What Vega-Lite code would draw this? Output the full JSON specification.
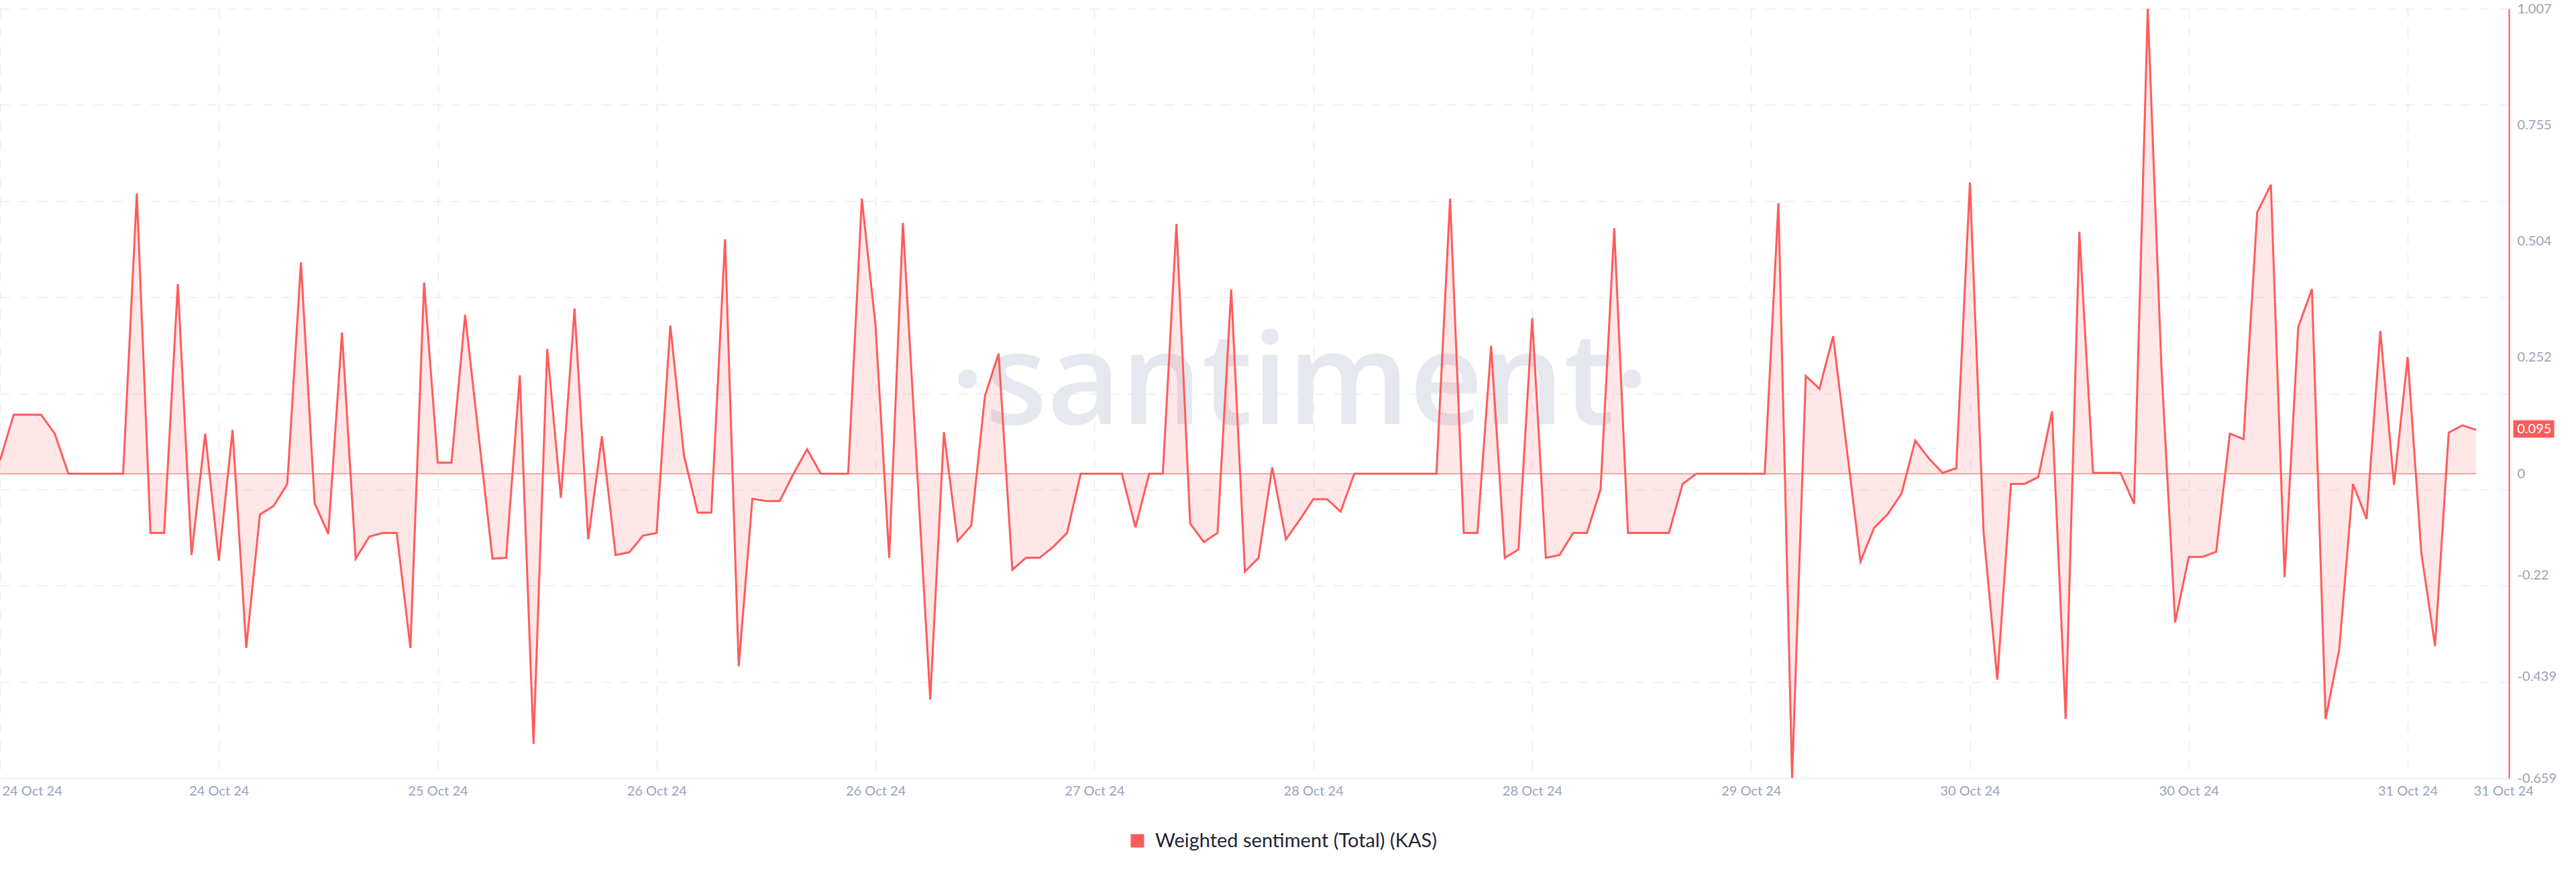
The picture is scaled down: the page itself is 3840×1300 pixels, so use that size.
{
  "$schema": "https://vega.github.io/schema/vega-lite/v6.json",
  "width": 3740,
  "height": 1147,
  "autosize": {"type": "none"},
  "padding": {"left": 0, "top": 13, "right": 100, "bottom": 140},
  "background": "white",
  "config": {"view": {"stroke": null}, "font": "Lato"},
  "data": {"values": [
    {"t":"2024-10-24T00:00:00Z","v":0.029},{"t":"2024-10-24T01:00:00Z","v":0.128},{"t":"2024-10-24T02:00:00Z","v":0.128},{"t":"2024-10-24T03:00:00Z","v":0.128},
    {"t":"2024-10-24T04:00:00Z","v":0.087},{"t":"2024-10-24T05:00:00Z","v":0},{"t":"2024-10-24T06:00:00Z","v":0},{"t":"2024-10-24T07:00:00Z","v":0},
    {"t":"2024-10-24T08:00:00Z","v":0},{"t":"2024-10-24T09:00:00Z","v":0},{"t":"2024-10-24T10:00:00Z","v":0.607},{"t":"2024-10-24T11:00:00Z","v":-0.128},
    {"t":"2024-10-24T12:00:00Z","v":-0.128},{"t":"2024-10-24T13:00:00Z","v":0.411},{"t":"2024-10-24T14:00:00Z","v":-0.176},{"t":"2024-10-24T15:00:00Z","v":0.087},
    {"t":"2024-10-24T16:00:00Z","v":-0.188},{"t":"2024-10-24T17:00:00Z","v":0.095},{"t":"2024-10-24T18:00:00Z","v":-0.377},{"t":"2024-10-24T19:00:00Z","v":-0.088},
    {"t":"2024-10-24T20:00:00Z","v":-0.07},{"t":"2024-10-24T21:00:00Z","v":-0.022},{"t":"2024-10-24T22:00:00Z","v":0.458},{"t":"2024-10-24T23:00:00Z","v":-0.064},
    {"t":"2024-10-25T00:00:00Z","v":-0.13},{"t":"2024-10-25T01:00:00Z","v":0.306},{"t":"2024-10-25T02:00:00Z","v":-0.184},{"t":"2024-10-25T03:00:00Z","v":-0.136},
    {"t":"2024-10-25T04:00:00Z","v":-0.128},{"t":"2024-10-25T05:00:00Z","v":-0.128},{"t":"2024-10-25T06:00:00Z","v":-0.377},{"t":"2024-10-25T07:00:00Z","v":0.414},
    {"t":"2024-10-25T08:00:00Z","v":0.024},{"t":"2024-10-25T09:00:00Z","v":0.024},{"t":"2024-10-25T10:00:00Z","v":0.344},{"t":"2024-10-25T11:00:00Z","v":0.08},
    {"t":"2024-10-25T12:00:00Z","v":-0.184},{"t":"2024-10-25T13:00:00Z","v":-0.182},{"t":"2024-10-25T14:00:00Z","v":0.213},{"t":"2024-10-25T15:00:00Z","v":-0.585},
    {"t":"2024-10-25T16:00:00Z","v":0.27},{"t":"2024-10-25T17:00:00Z","v":-0.052},{"t":"2024-10-25T18:00:00Z","v":0.358},{"t":"2024-10-25T19:00:00Z","v":-0.142},
    {"t":"2024-10-25T20:00:00Z","v":0.081},{"t":"2024-10-25T21:00:00Z","v":-0.176},{"t":"2024-10-25T22:00:00Z","v":-0.17},{"t":"2024-10-25T23:00:00Z","v":-0.134},
    {"t":"2024-10-26T00:00:00Z","v":-0.128},{"t":"2024-10-26T01:00:00Z","v":0.321},{"t":"2024-10-26T02:00:00Z","v":0.039},{"t":"2024-10-26T03:00:00Z","v":-0.084},
    {"t":"2024-10-26T04:00:00Z","v":-0.084},{"t":"2024-10-26T05:00:00Z","v":0.508},{"t":"2024-10-26T06:00:00Z","v":-0.417},{"t":"2024-10-26T07:00:00Z","v":-0.054},
    {"t":"2024-10-26T08:00:00Z","v":-0.059},{"t":"2024-10-26T09:00:00Z","v":-0.059},{"t":"2024-10-26T10:00:00Z","v":0},{"t":"2024-10-26T11:00:00Z","v":0.053},
    {"t":"2024-10-26T12:00:00Z","v":0},{"t":"2024-10-26T13:00:00Z","v":0},{"t":"2024-10-26T14:00:00Z","v":0},{"t":"2024-10-26T15:00:00Z","v":0.596},
    {"t":"2024-10-26T16:00:00Z","v":0.321},{"t":"2024-10-26T17:00:00Z","v":-0.182},{"t":"2024-10-26T18:00:00Z","v":0.543},{"t":"2024-10-26T19:00:00Z","v":0.027},
    {"t":"2024-10-26T20:00:00Z","v":-0.489},{"t":"2024-10-26T21:00:00Z","v":0.09},{"t":"2024-10-26T22:00:00Z","v":-0.146},{"t":"2024-10-26T23:00:00Z","v":-0.112},
    {"t":"2024-10-27T00:00:00Z","v":0.169},{"t":"2024-10-27T01:00:00Z","v":0.26},{"t":"2024-10-27T02:00:00Z","v":-0.208},{"t":"2024-10-27T03:00:00Z","v":-0.182},
    {"t":"2024-10-27T04:00:00Z","v":-0.182},{"t":"2024-10-27T05:00:00Z","v":-0.158},{"t":"2024-10-27T06:00:00Z","v":-0.128},{"t":"2024-10-27T07:00:00Z","v":0},
    {"t":"2024-10-27T08:00:00Z","v":0},{"t":"2024-10-27T09:00:00Z","v":0},{"t":"2024-10-27T10:00:00Z","v":0},{"t":"2024-10-27T11:00:00Z","v":-0.116},
    {"t":"2024-10-27T12:00:00Z","v":0},{"t":"2024-10-27T13:00:00Z","v":0},{"t":"2024-10-27T14:00:00Z","v":0.541},{"t":"2024-10-27T15:00:00Z","v":-0.108},
    {"t":"2024-10-27T16:00:00Z","v":-0.148},{"t":"2024-10-27T17:00:00Z","v":-0.128},{"t":"2024-10-27T18:00:00Z","v":0.399},{"t":"2024-10-27T19:00:00Z","v":-0.212},
    {"t":"2024-10-27T20:00:00Z","v":-0.182},{"t":"2024-10-27T21:00:00Z","v":0.014},{"t":"2024-10-27T22:00:00Z","v":-0.142},{"t":"2024-10-27T23:00:00Z","v":-0.1},
    {"t":"2024-10-28T00:00:00Z","v":-0.055},{"t":"2024-10-28T01:00:00Z","v":-0.055},{"t":"2024-10-28T02:00:00Z","v":-0.082},{"t":"2024-10-28T03:00:00Z","v":0},
    {"t":"2024-10-28T04:00:00Z","v":0},{"t":"2024-10-28T05:00:00Z","v":0},{"t":"2024-10-28T06:00:00Z","v":0},{"t":"2024-10-28T07:00:00Z","v":0},
    {"t":"2024-10-28T08:00:00Z","v":0},{"t":"2024-10-28T09:00:00Z","v":0},{"t":"2024-10-28T10:00:00Z","v":0.596},{"t":"2024-10-28T11:00:00Z","v":-0.128},
    {"t":"2024-10-28T12:00:00Z","v":-0.128},{"t":"2024-10-28T13:00:00Z","v":0.277},{"t":"2024-10-28T14:00:00Z","v":-0.182},{"t":"2024-10-28T15:00:00Z","v":-0.164},
    {"t":"2024-10-28T16:00:00Z","v":0.337},{"t":"2024-10-28T17:00:00Z","v":-0.182},{"t":"2024-10-28T18:00:00Z","v":-0.176},{"t":"2024-10-28T19:00:00Z","v":-0.128},
    {"t":"2024-10-28T20:00:00Z","v":-0.128},{"t":"2024-10-28T21:00:00Z","v":-0.034},{"t":"2024-10-28T22:00:00Z","v":0.532},{"t":"2024-10-28T23:00:00Z","v":-0.128},
    {"t":"2024-10-29T00:00:00Z","v":-0.128},{"t":"2024-10-29T01:00:00Z","v":-0.128},{"t":"2024-10-29T02:00:00Z","v":-0.128},{"t":"2024-10-29T03:00:00Z","v":-0.022},
    {"t":"2024-10-29T04:00:00Z","v":0},{"t":"2024-10-29T05:00:00Z","v":0},{"t":"2024-10-29T06:00:00Z","v":0},{"t":"2024-10-29T07:00:00Z","v":0},
    {"t":"2024-10-29T08:00:00Z","v":0},{"t":"2024-10-29T09:00:00Z","v":0},{"t":"2024-10-29T10:00:00Z","v":0.586},{"t":"2024-10-29T11:00:00Z","v":-0.659},
    {"t":"2024-10-29T12:00:00Z","v":0.212},{"t":"2024-10-29T13:00:00Z","v":0.184},{"t":"2024-10-29T14:00:00Z","v":0.298},{"t":"2024-10-29T15:00:00Z","v":0.054},
    {"t":"2024-10-29T16:00:00Z","v":-0.19},{"t":"2024-10-29T17:00:00Z","v":-0.117},{"t":"2024-10-29T18:00:00Z","v":-0.087},{"t":"2024-10-29T19:00:00Z","v":-0.043},
    {"t":"2024-10-29T20:00:00Z","v":0.072},{"t":"2024-10-29T21:00:00Z","v":0.033},{"t":"2024-10-29T22:00:00Z","v":0.002},{"t":"2024-10-29T23:00:00Z","v":0.012},
    {"t":"2024-10-30T00:00:00Z","v":0.631},{"t":"2024-10-30T01:00:00Z","v":-0.128},{"t":"2024-10-30T02:00:00Z","v":-0.446},{"t":"2024-10-30T03:00:00Z","v":-0.022},
    {"t":"2024-10-30T04:00:00Z","v":-0.022},{"t":"2024-10-30T05:00:00Z","v":-0.007},{"t":"2024-10-30T06:00:00Z","v":0.135},{"t":"2024-10-30T07:00:00Z","v":-0.531},
    {"t":"2024-10-30T08:00:00Z","v":0.524},{"t":"2024-10-30T09:00:00Z","v":0.002},{"t":"2024-10-30T10:00:00Z","v":0.002},{"t":"2024-10-30T11:00:00Z","v":0.002},
    {"t":"2024-10-30T12:00:00Z","v":-0.065},{"t":"2024-10-30T13:00:00Z","v":1.007},{"t":"2024-10-30T14:00:00Z","v":0.23},{"t":"2024-10-30T15:00:00Z","v":-0.322},
    {"t":"2024-10-30T16:00:00Z","v":-0.18},{"t":"2024-10-30T17:00:00Z","v":-0.18},{"t":"2024-10-30T18:00:00Z","v":-0.169},{"t":"2024-10-30T19:00:00Z","v":0.087},
    {"t":"2024-10-30T20:00:00Z","v":0.075},{"t":"2024-10-30T21:00:00Z","v":0.566},{"t":"2024-10-30T22:00:00Z","v":0.626},{"t":"2024-10-30T23:00:00Z","v":-0.224},
    {"t":"2024-10-31T00:00:00Z","v":0.318},{"t":"2024-10-31T01:00:00Z","v":0.4},{"t":"2024-10-31T02:00:00Z","v":-0.531},{"t":"2024-10-31T03:00:00Z","v":-0.38},
    {"t":"2024-10-31T04:00:00Z","v":-0.022},{"t":"2024-10-31T05:00:00Z","v":-0.098},{"t":"2024-10-31T06:00:00Z","v":0.309},{"t":"2024-10-31T07:00:00Z","v":-0.024},
    {"t":"2024-10-31T08:00:00Z","v":0.253},{"t":"2024-10-31T09:00:00Z","v":-0.172},{"t":"2024-10-31T10:00:00Z","v":-0.373},{"t":"2024-10-31T11:00:00Z","v":0.089},
    {"t":"2024-10-31T12:00:00Z","v":0.105},{"t":"2024-10-31T13:00:00Z","v":0.095}
  ]},
  "resolve": {"axis": {"x": "independent", "y": "independent"}},
  "layer": [
    {
      "data": {"values": [{"label": "·santiment·"}]},
      "mark": {"type": "text", "font": "Open Sans", "fontSize": 190, "fontWeight": 600, "color": "#e6e8f0", "align": "center", "baseline": "alphabetic"},
      "encoding": {
        "text": {"field": "label"},
        "x": {"datum": {"year": 2024, "month": 10, "date": 27, "hours": 23, "minutes": 0, "utc": true}, "type": "temporal", "axis": null},
        "y": {"datum": 0.108, "type": "quantitative", "axis": null}
      }
    },
    {
      "mark": {"type": "area", "fill": "#ff5b5b", "fillOpacity": 0.15},
      "encoding": {
        "x": {
          "field": "t", "type": "temporal",
          "scale": {"type": "utc", "domain": [1729728000000, 1730388240000]},
          "axis": {
            "orient": "bottom", "title": null,
            "values": [1729728000000, 1729785600000, 1729843200000, 1729900800000, 1729958400000, 1730016000000, 1730073600000, 1730131200000, 1730188800000, 1730246400000, 1730304000000, 1730361600000, 1730386800000],
            "labelExpr": "utcFormat(datum.value, '%d %b %y')",
            "labelFont": "Lato", "labelFontSize": 20, "labelColor": "#9aa2b8",
            "labelPadding": 9, "ticks": false, "tickSize": 0, "labelOverlap": false,
            "labelFlush": 1, "labelFlushOffset": -3,
            "domainColor": "#e3e6ee", "domainWidth": 1,
            "grid": true, "gridDash": [14, 14], "gridColor": "#e9ebf1", "gridWidth": 1.5,
            "gridOpacity": {"condition": {"test": "datum.value > 1730370000000", "value": 0}, "value": 1}
          }
        },
        "y": {
          "field": "v", "type": "quantitative",
          "scale": {"domain": [-0.659, 1.007], "nice": false, "zero": false},
          "axis": {
            "orient": "left", "title": null, "labels": false, "ticks": false, "tickSize": 0, "domain": false,
            "values": [1.007, 0.79875, 0.5905, 0.38225, 0.174, -0.03425, -0.2425, -0.45075],
            "grid": true, "gridDash": [14, 14], "gridColor": "#e9ebf1", "gridWidth": 1.5,
            "minExtent": 0, "maxExtent": 0
          }
        },
        "y2": {"datum": 0}
      }
    },
    {
      "mark": {"type": "line", "color": "#ff5b5b", "strokeWidth": 1},
      "encoding": {
        "x": {"field": "t", "type": "temporal", "axis": null},
        "y": {"datum": 0, "type": "quantitative", "axis": null}
      }
    },
    {
      "mark": {"type": "line", "color": "#ff5b5b", "strokeWidth": 3},
      "encoding": {
        "x": {"field": "t", "type": "temporal", "axis": null},
        "y": {
          "field": "v", "type": "quantitative",
          "axis": {
            "orient": "right", "title": null, "grid": false, "ticks": false, "tickSize": 0,
            "values": [1.007, 0.755, 0.504, 0.252, 0, -0.22, -0.439, -0.659],
            "labelExpr": "'' + datum.value",
            "labelFont": "Lato", "labelFontSize": 20, "labelColor": "#9aa2b8", "labelPadding": 12,
            "domainColor": "#ff5b5b", "domainWidth": 2
          }
        }
      }
    },
    {
      "data": {"values": [{"last": 0.095}]},
      "mark": {"type": "rect", "color": "#ff5b5b"},
      "encoding": {
        "x": {"datum": {"year": 2024, "month": 10, "date": 31, "hours": 15, "minutes": 43, "utc": true}, "type": "temporal", "axis": null},
        "x2": {"datum": {"year": 2024, "month": 10, "date": 31, "hours": 18, "minutes": 43, "utc": true}},
        "y": {"datum": 0.116, "type": "quantitative", "axis": null},
        "y2": {"datum": 0.078}
      }
    },
    {
      "data": {"values": [{"last": "0.095"}]},
      "mark": {"type": "text", "color": "white", "font": "Lato", "fontSize": 20, "align": "left", "baseline": "middle"},
      "encoding": {
        "text": {"field": "last"},
        "x": {"datum": {"year": 2024, "month": 10, "date": 31, "hours": 16, "minutes": 0, "utc": true}, "type": "temporal", "axis": null},
        "y": {"datum": 0.097, "type": "quantitative", "axis": null}
      }
    },
    {
      "data": {"values": []},
      "mark": {"type": "square", "opacity": 1, "filled": true},
      "encoding": {
        "color": {
          "datum": "Weighted sentiment (Total) (KAS)", "type": "nominal",
          "scale": {"range": ["#ff5b5b"]},
          "legend": {
            "orient": "none", "legendX": 1681, "legendY": 1226, "title": null,
            "symbolType": "square", "symbolSize": 400, "symbolStrokeWidth": 0, "symbolOpacity": 1,
            "labelFont": "Lato", "labelFontSize": 29, "labelColor": "#1f2336", "labelOffset": 12, "labelLimit": 0
          }
        }
      }
    }
  ]
}
